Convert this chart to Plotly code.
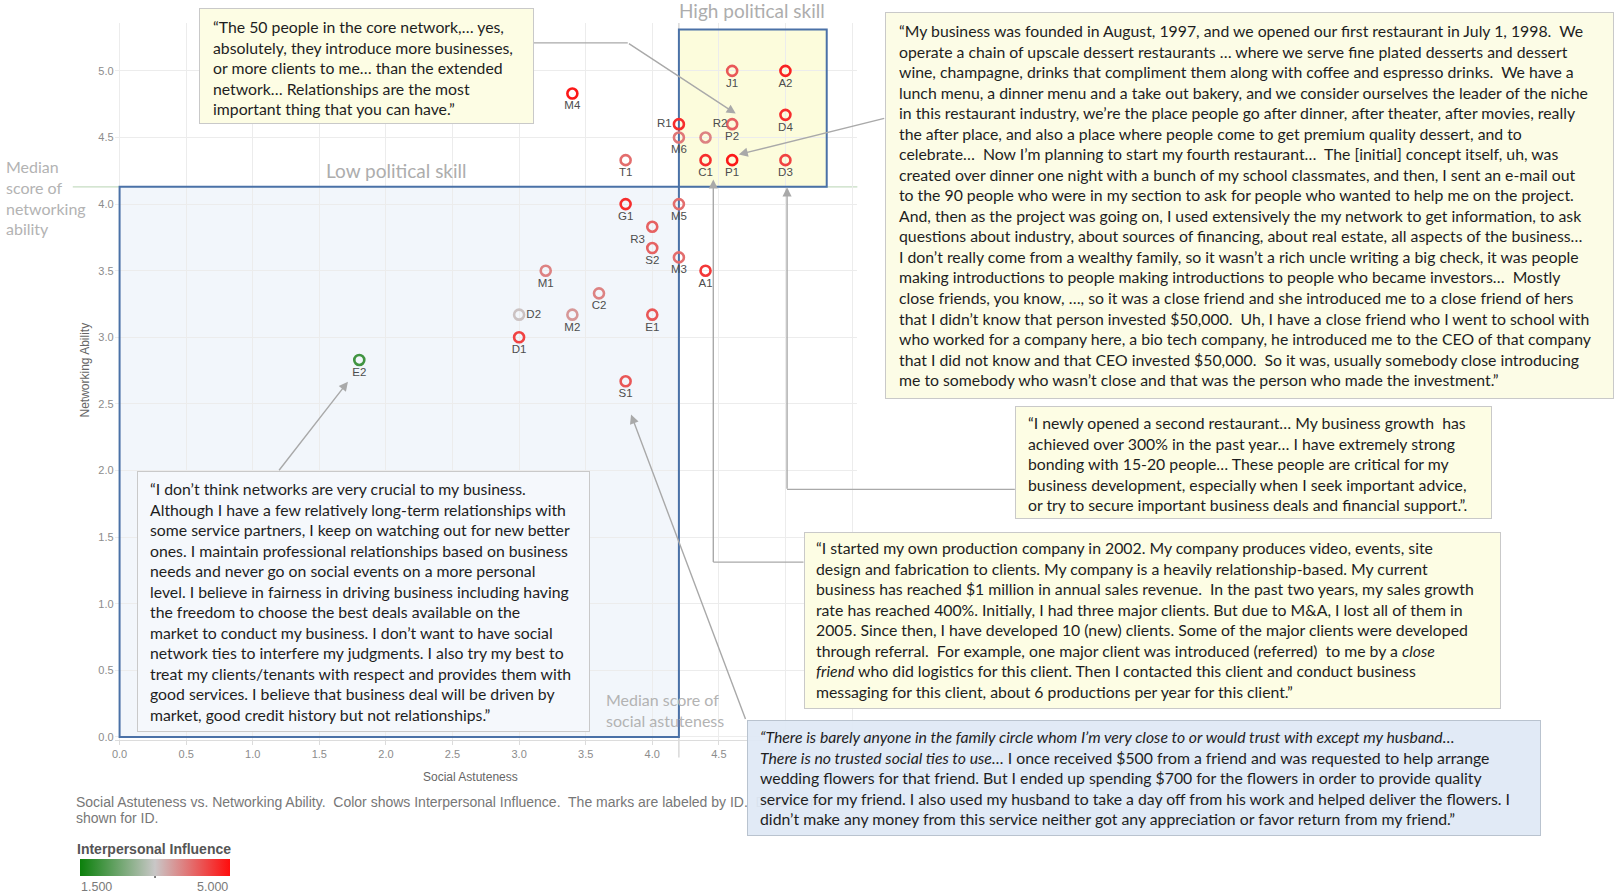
import plotly.graph_objects as go

W, H = 1616, 895

# ---------------- data ----------------
ids = ['J1', 'A2', 'M4', 'R1', 'P2', 'M6', 'R2', 'D4', 'T1', 'C1', 'P1', 'D3', 'G1',
       'M5', 'R3', 'S2', 'M3', 'A1', 'M1', 'C2', 'D2', 'M2', 'E1', 'D1', 'E2', 'S1']
social_astuteness = [4.6, 5.0, 3.4, 4.2, 4.6, 4.2, 4.4, 5.0, 3.8, 4.4, 4.6, 5.0, 3.8,
                     4.2, 4.0, 4.0, 4.2, 4.4, 3.2, 3.6, 3.0, 3.4, 4.0, 3.0, 1.8, 3.8]
networking_ability = [5.0, 5.0, 4.83, 4.6, 4.6, 4.5, 4.5, 4.67, 4.33, 4.33, 4.33, 4.33, 4.0,
                      4.0, 3.83, 3.67, 3.6, 3.5, 3.5, 3.33, 3.17, 3.17, 3.17, 3.0, 2.83, 2.67]
interpersonal_influence = [4.3, 4.8, 4.9, 4.7, 4.2, 4.0, 3.9, 4.7, 4.1, 4.7, 4.9, 4.5, 4.7,
                           4.1, 4.2, 4.2, 4.1, 4.6, 3.9, 3.9, 3.3, 3.7, 4.3, 4.5, 2.0, 4.3]
label_positions = ['bottom center'] * len(ids)
label_positions[ids.index('R1')] = 'middle left'
label_positions[ids.index('R2')] = 'top right'
label_positions[ids.index('D2')] = 'middle right'
label_positions[ids.index('R3')] = 'bottom left'

influence_min, influence_max = 1.5, 5.0
influence_tick_labels = ['1.500', '5.000']
median_social = 4.2
median_network = 4.13
region_max = 5.31

quote_core = [
    "“The 50 people in the core network,… yes,",
    "absolutely, they introduce more businesses,",
    "or more clients to me… than the extended",
    "network… Relationships are the most",
    "important thing that you can have.”",
]
quote_dessert = [
    "“My business was founded in August, 1997, and we opened our first restaurant in July 1, 1998.\u00a0 We",
    "operate a chain of upscale dessert restaurants … where we serve fine plated desserts and dessert",
    "wine, champagne, drinks that compliment them along with coffee and espresso drinks.\u00a0 We have a",
    "lunch menu, a dinner menu and a take out bakery, and we consider ourselves the leader of the niche",
    "in this restaurant industry, we’re the place people go after dinner, after theater, after movies, really",
    "the after place, and also a place where people come to get premium quality dessert, and to",
    "celebrate…\u00a0 Now I’m planning to start my fourth restaurant…\u00a0 The [initial] concept itself, uh, was",
    "created over dinner one night with a bunch of my school classmates, and then, I sent an e-mail out",
    "to the 90 people who were in my section to ask for people who wanted to help me on the project.",
    "And, then as the project was going on, I used extensively the my network to get information, to ask",
    "questions about industry, about sources of financing, about real estate, all aspects of the business…",
    "I don’t really come from a wealthy family, so it wasn’t a rich uncle writing a big check, it was people",
    "making introductions to people making introductions to people who became investors…\u00a0 Mostly",
    "close friends, you know, …, so it was a close friend and she introduced me to a close friend of hers",
    "that I didn’t know that person invested $50,000.\u00a0 Uh, I have a close friend who I went to school with",
    "who worked for a company here, a bio tech company, he introduced me to the CEO of that company",
    "that I did not know and that CEO invested $50,000.\u00a0 So it was, usually somebody close introducing",
    "me to somebody who wasn’t close and that was the person who made the investment.”",
]
quote_restaurant = [
    "“I newly opened a second restaurant… My business growth\u00a0 has",
    "achieved over 300% in the past year… I have extremely strong",
    "bonding with 15-20 people… These people are critical for my",
    "business development, especially when I seek important advice,",
    "or try to secure important business deals and financial support.”.",
]
quote_production = [
    "“I started my own production company in 2002. My company produces video, events, site",
    "design and fabrication to clients. My company is a heavily relationship-based. My current",
    "business has reached $1 million in annual sales revenue.\u00a0 In the past two years, my sales growth",
    "rate has reached 400%. Initially, I had three major clients. But due to M&amp;A, I lost all of them in",
    "2005. Since then, I have developed 10 (new) clients. Some of the major clients were developed",
    "through referral.\u00a0 For example, one major client was introduced (referred)\u00a0 to me by a <i>close</i>",
    "<i>friend</i> who did logistics for this client. Then I contacted this client and conduct business",
    "messaging for this client, about 6 productions per year for this client.”",
]
quote_family = [
    "<i>“There is barely anyone in the family circle whom I’m very close to or would trust with except my husband…</i>",
    "<i>There is no trusted social ties to use…</i> I once received $500 from a friend and was requested to help arrange",
    "wedding flowers for that friend. But I ended up spending $700 for the flowers in order to provide quality",
    "service for my friend. I also used my husband to take a day off from his work and helped deliver the flowers. I",
    "didn’t make any money from this service neither got any appreciation or favor return from my friend.”",
]
quote_market = [
    "“I don’t think networks are very crucial to my business.",
    "Although I have a few relatively long-term relationships with",
    "some service partners, I keep on watching out for new better",
    "ones. I maintain professional relationships based on business",
    "needs and never go on social events on a more personal",
    "level. I believe in fairness in driving business including having",
    "the freedom to choose the best deals available on the",
    "market to conduct my business. I don’t want to have social",
    "network ties to interfere my judgments. I also try my best to",
    "treat my clients/tenants with respect and provides them with",
    "good services. I believe that business deal will be driven by",
    "market, good credit history but not relationships.”",
]
caption_lines = [
    "Social Astuteness vs. Networking Ability.\u00a0 Color shows Interpersonal Influence.\u00a0 "
    "The marks are labeled by ID.\u00a0 Details are",
    "shown for ID.",
]


def px(x):
    return x / W


def py(y):
    return 1 - y / H


ARIAL = "Liberation Sans, Arial, sans-serif"
BOXFONT = "Lato, Carlito, Calibri, sans-serif"
colorscale = [[0.0, '#0b800b'], [0.5, '#c9c7c7'], [1.0, '#ff0d0d']]

fig = go.Figure()
fig.add_trace(go.Scatter(
    x=social_astuteness, y=networking_ability, mode='markers+text',
    text=ids, textposition=label_positions,
    textfont=dict(family=ARIAL, size=11.5, color='#4d4d4d'),
    marker=dict(symbol='circle-open', size=10, color=interpersonal_influence,
                colorscale=colorscale, cmin=influence_min, cmax=influence_max,
                line=dict(width=2.6),
                colorbar=dict(orientation='h', x=px(77), xanchor='left', y=py(862), yanchor='top',
                              len=150, lenmode='pixels', thickness=17, thicknessmode='pixels',
                              xpad=0, ypad=0, outlinewidth=0, showticklabels=False, ticks='')),
    hoverinfo='skip', cliponaxis=False, showlegend=False,
))

shapes = []
# region fills (below grid)
shapes.append(dict(type='rect', xref='x', yref='y', x0=0, x1=median_social, y0=0, y1=median_network,
                   fillcolor='#f2f6fb', line=dict(width=0), layer='below'))
shapes.append(dict(type='rect', xref='x', yref='y', x0=median_social, x1=region_max, y0=median_network,
                   y1=region_max, fillcolor='#fcfcdc', line=dict(width=0), layer='below'))
# median lines
shapes.append(dict(type='line', xref='paper', yref='y', x0=px(70), x1=px(857), y0=median_network,
                   y1=median_network, line=dict(color='#c6dcc2', width=1.2), layer='between'))
shapes.append(dict(type='line', xref='x', yref='paper', x0=median_social, x1=median_social, y0=py(760),
                   y1=py(23), line=dict(color='#cfcfcf', width=1.2), layer='between'))
# region borders
for (a, b, c, d) in [(0, median_social, 0, median_network),
                     (median_social, region_max, median_network, region_max)]:
    shapes.append(dict(type='rect', xref='x', yref='y', x0=a, x1=b, y0=c, y1=d,
                       fillcolor='rgba(0,0,0,0)', line=dict(color='#4a71a7', width=2), layer='between'))


def seg_path(points):
    return 'M ' + ' L '.join(f'{px(x):.5f},{py(y):.5f}' for x, y in points)


ARROW = '#a9a9a9'
for pts in [[(532, 43), (626.7, 43)], [(1015, 491), (786.5, 491)], [(803, 564), (712.5, 564)]]:
    shapes.append(dict(type='path', xref='paper', yref='paper', path=seg_path(pts),
                       line=dict(color=ARROW, width=1.4)))
# legend middle tick
shapes.append(dict(type='line', xref='paper', yref='paper', x0=px(152.5), x1=px(152.5), y0=py(876),
                   y1=py(881), line=dict(color='#555555', width=1.5)))

annotations = []


def arrow(tail, tip):
    annotations.append(dict(xref='paper', yref='paper', x=px(tip[0]), y=py(tip[1]), text='',
                            showarrow=True, ax=tail[0] - tip[0], ay=tail[1] - tip[1],
                            arrowhead=2, arrowsize=1.3, arrowwidth=1.4, arrowcolor=ARROW,
                            standoff=0, startstandoff=0))


arrow((626.7, 43), (735, 114))
arrow((885, 118.5), (738, 155))
arrow((786.5, 491), (786.5, 188))
arrow((712.5, 564), (712.5, 180))
arrow((745, 722), (630, 416))
arrow((276, 473), (346, 383))


def text(x, y, s, size, color, family=BOXFONT, xanchor='left', yanchor='middle', align='left', **kw):
    d = dict(xref='paper', yref='paper', x=px(x), y=py(y), text=s, showarrow=False,
             xanchor=xanchor, yanchor=yanchor, align=align,
             font=dict(family=family, size=size, color=color))
    d.update(kw)
    annotations.append(d)


# region labels
text(394.7, 171, 'Low political skill', 19, '#adadad', xanchor='center')
text(751.5, 10.5, 'High political skill', 19, '#adadad', xanchor='center')
text(2, 157, 'Median<br>score of<br>networking<br>ability', 16, '#b3b3b3', yanchor='top', borderpad=0)
text(604, 691, 'Median score of<br>social astuteness', 16, '#b3b3b3', yanchor='top', borderpad=0)

# axis titles
text(469, 780, 'Social Astuteness', 12, '#666666', family=ARIAL, xanchor='center')
text(82, 371, 'Networking Ability', 12, '#666666', family=ARIAL, xanchor='center', textangle=-90)

# caption (partly covered by the blue quote box)
text(71, 805, caption_lines[0], 14, '#777777', family=ARIAL)
text(71, 820.5, caption_lines[1], 14, '#777777', family=ARIAL)

# legend texts
text(72, 852, '<b>Interpersonal Influence</b>', 14, '#555555', family=ARIAL)
text(76, 890, influence_tick_labels[0], 12.5, '#7a7a7a', family=ARIAL)
text(228, 890, influence_tick_labels[1], 12.5, '#7a7a7a', family=ARIAL, xanchor='right')


def box(x0, y0, x1, y1, lines, text_left, first_line_y, bg, border='#c9c9c9', size=15.8):
    annotations.append(dict(xref='paper', yref='paper', x=px(x0), y=py(y0), xanchor='left', yanchor='top',
                            text=' ', showarrow=False, width=x1 - x0 - 2, height=y1 - y0 - 2,
                            bgcolor=bg, bordercolor=border, borderwidth=1, borderpad=0))
    annotations.append(dict(xref='paper', yref='paper', x=px(text_left), y=py(first_line_y - 10.5),
                            xanchor='left', yanchor='top', text='<br>'.join(lines), showarrow=False,
                            align='left', borderpad=0,
                            font=dict(family=BOXFONT, size=size, color='#1e1e1e')))


box(197, 8, 532, 124, quote_core, 210, 26.8, '#fdfde4')
box(885, 12, 1614, 399, quote_dessert, 897.5, 30.9, '#fcfce6')
box(1015, 407, 1492, 520, quote_restaurant, 1027.5, 423.6, '#fdfde4')
box(803, 534, 1500, 711, quote_production, 815, 549.3, '#fdfde4')
box(746, 722, 1540, 838, quote_family, 758.5, 739, 'rgba(223,233,245,0.94)', border='#b9c3cf')
box(134, 473, 587, 734, quote_market, 146.3, 490.6, '#f5f8fc')

fig.update_layout(
    width=W, height=H, margin=dict(l=0, r=0, t=0, b=0),
    paper_bgcolor='white', plot_bgcolor='rgba(0,0,0,0)',
    shapes=shapes, annotations=annotations, showlegend=False,
    xaxis=dict(domain=[px(112), px(857)], range=[-0.037, 5.54], tick0=0, dtick=0.5, tickformat='.1f',
               showgrid=True, gridcolor='#ececec', gridwidth=1, zeroline=False,
               showline=True, linecolor='#dcdcdc', ticks='outside', ticklen=4, tickcolor='#dcdcdc',
               tickfont=dict(family=ARIAL, size=11, color='#8c8c8c')),
    yaxis=dict(domain=[py(742), py(23)], range=[-0.019, 5.36], tick0=0, dtick=0.5, tickformat='.1f',
               showgrid=True, gridcolor='#ececec', gridwidth=1, zeroline=False, showline=False,
               ticks='', tickfont=dict(family=ARIAL, size=11, color='#8c8c8c')),
)

fig.write_html("out.html", config={'displayModeBar': False},
               post_script="document.body.style.margin='0px';document.body.style.overflow='hidden';")
